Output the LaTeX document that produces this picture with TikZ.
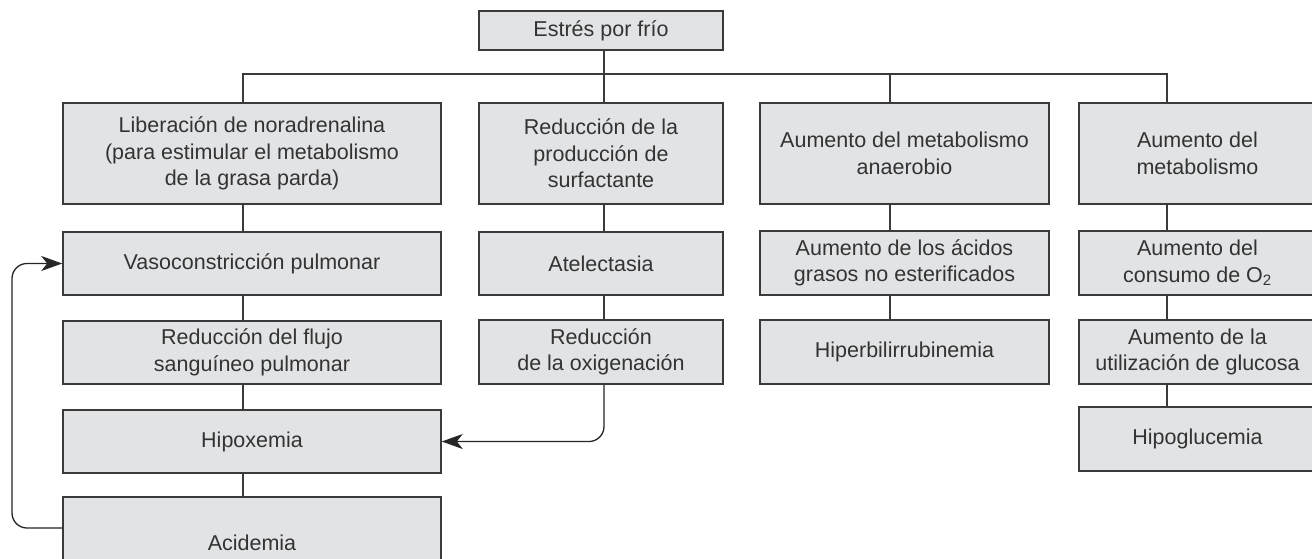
\documentclass[tikz,border=0pt]{standalone}
\usepackage{fontspec}
\setmainfont{Liberation Sans}
\usetikzlibrary{arrows.meta}
\definecolor{boxfill}{HTML}{E2E3E5}
\definecolor{boxline}{HTML}{3A3A3A}
\definecolor{txt}{HTML}{333333}
\tikzset{
  box/.style={draw=boxline, fill=boxfill, line width=1.5pt, text=txt, align=center,
    inner sep=0pt, font=\fontsize{21.5}{26.5}\selectfont},
  link/.style={draw=boxline, line width=1.3pt},
  fb/.style={draw=black!85, line width=1.3pt, rounded corners=15pt,
    -{Stealth[length=21pt,width=15pt,inset=6pt]}},
}
\begin{document}
\begin{tikzpicture}[x=1pt,y=-1pt]
\useasboundingbox (0,0) rectangle (1312,558);
\clip (0,0) rectangle (1312,558);
\fill[white] (0,0) rectangle (1312,558);
% column line positions
\coordinate (x1) at (243,0);
\coordinate (x2) at (604,0);
\coordinate (x3) at (890,0);
\coordinate (x4) at (1167,0);
\coordinate (bus) at (0,74);
\coordinate (fbx) at (12,400);
% top
\node[box, minimum width=244pt, minimum height=39pt] (top) at (601,30.5) {Estrés por frío};
% column 1
\node[box, minimum width=378pt, minimum height=101pt] (c1a) at (252,153.5) {Liberación de noradrenalina\\(para estimular el metabolismo\\de la grasa parda)};
\node[box, minimum width=378pt, minimum height=63pt] (c1b) at (252,263.5) {Vasoconstricción pulmonar};
\node[box, minimum width=378pt, minimum height=63pt] (c1c) at (252,352.5) {Reducción del flujo\\sanguíneo pulmonar};
\node[box, minimum width=378pt, minimum height=63pt] (c1d) at (252,441.5) {Hipoxemia};
\node[box, minimum width=378pt, minimum height=92pt] (c1e) at (252,543) {Acidemia};
% column 2
\node[box, minimum width=244pt, minimum height=101pt] (c2a) at (601,153.5) {Reducción de la\\producción de\\surfactante};
\node[box, minimum width=244pt, minimum height=63pt] (c2b) at (601,263.5) {Atelectasia};
\node[box, minimum width=244pt, minimum height=64pt] (c2c) at (601,352) {Reducción\\de la oxigenación};
% column 3
\node[box, minimum width=289pt, minimum height=101pt] (c3a) at (904.5,153.5) {Aumento del metabolismo\\anaerobio};
\node[box, minimum width=289pt, minimum height=64pt] (c3b) at (904.5,263) {Aumento de los ácidos\\grasos no esterificados};
\node[box, minimum width=289pt, minimum height=64pt] (c3c) at (904.5,352) {Hiperbilirrubinemia};
% column 4
\node[box, minimum width=237pt, minimum height=101pt] (c4a) at (1197.5,153.5) {Aumento del\\metabolismo};
\node[box, minimum width=237pt, minimum height=64pt] (c4b) at (1197.5,263) {Aumento del\\consumo de O\textsubscript{2}};
\node[box, minimum width=237pt, minimum height=64pt] (c4c) at (1197.5,352) {Aumento de la\\utilización de glucosa};
\node[box, minimum width=237pt, minimum height=64pt] (c4d) at (1197.5,439) {Hipoglucemia};
% tree connectors
\draw[link] (top.south -| x2) -- (c2a.north -| x2);
\draw[link] (c1a.north -| x1) |- (bus -| x4) -- (c4a.north -| x4);
\draw[link] (bus -| x3) -- (c3a.north -| x3);
\draw[link] (c1a.south -| x1) -- (c1b.north -| x1);
\draw[link] (c1b.south -| x1) -- (c1c.north -| x1);
\draw[link] (c1c.south -| x1) -- (c1d.north -| x1);
\draw[link] (c1d.south -| x1) -- (c1e.north -| x1);
\draw[link] (c2a.south -| x2) -- (c2b.north -| x2);
\draw[link] (c2b.south -| x2) -- (c2c.north -| x2);
\draw[link] (c3a.south -| x3) -- (c3b.north -| x3);
\draw[link] (c3b.south -| x3) -- (c3c.north -| x3);
\draw[link] (c4a.south -| x4) -- (c4b.north -| x4);
\draw[link] (c4b.south -| x4) -- (c4c.north -| x4);
\draw[link] (c4c.south -| x4) -- (c4d.north -| x4);
% arrows
\draw[fb] (c2c.south -| x2) |- (c1d.east);
\draw[fb] ([yshift=15pt]c1e.west) -| (fbx) |- (c1b.west);
\end{tikzpicture}
\end{document}
